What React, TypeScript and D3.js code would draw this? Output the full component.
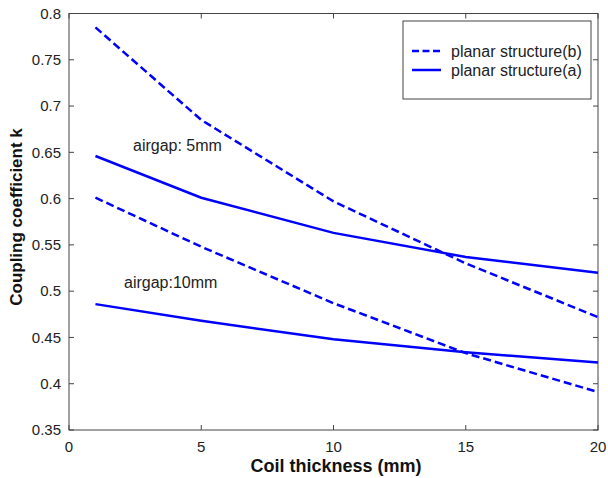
import React, { useEffect, useRef } from "react";
import * as d3 from "d3";

// coil thickness (mm)
const thickness = [1, 5, 10, 15, 20];
// coupling coefficient k, per structure / airgap
const b5mm = [0.785, 0.685, 0.597, 0.53, 0.472];
const a5mm = [0.646, 0.601, 0.563, 0.537, 0.52];
const b10mm = [0.601, 0.548, 0.487, 0.433, 0.391];
const a10mm = [0.486, 0.468, 0.448, 0.434, 0.423];

const xTicks = [0, 5, 10, 15, 20];
const yTicks = [0.35, 0.4, 0.45, 0.5, 0.55, 0.6, 0.65, 0.7, 0.75, 0.8];

const legendLabels = ["planar structure(b)", "planar structure(a)"];

function App() {
  const ref = useRef<SVGSVGElement>(null);

  useEffect(() => {
    const svg = d3.select(ref.current);
    svg.selectAll("*").remove();

    const left = 69, right = 598, top = 13.5, bottom = 430;
    const x = d3.scaleLinear().domain([0, 20]).range([left, right]);
    const y = d3.scaleLinear().domain([0.35, 0.8]).range([bottom, top]);
    const font = "Arial, 'Liberation Sans', sans-serif";
    const axisColor = "#444";

    svg.append("rect")
      .attr("x", left).attr("y", top)
      .attr("width", right - left).attr("height", bottom - top)
      .attr("fill", "white").attr("stroke", axisColor).attr("stroke-width", 1);

    // ticks pointing inward on all four sides
    const tickLen = 5;
    xTicks.forEach(t => {
      svg.append("line").attr("x1", x(t)).attr("x2", x(t)).attr("y1", bottom).attr("y2", bottom - tickLen).attr("stroke", axisColor);
      svg.append("line").attr("x1", x(t)).attr("x2", x(t)).attr("y1", top).attr("y2", top + tickLen).attr("stroke", axisColor);
      svg.append("text").attr("x", x(t)).attr("y", bottom + 22)
        .attr("text-anchor", "middle").style("font-family", font).style("font-size", "15px").attr("fill", "#222")
        .text(String(t));
    });
    yTicks.forEach(t => {
      svg.append("line").attr("x1", left).attr("x2", left + tickLen).attr("y1", y(t)).attr("y2", y(t)).attr("stroke", axisColor);
      svg.append("line").attr("x1", right).attr("x2", right - tickLen).attr("y1", y(t)).attr("y2", y(t)).attr("stroke", axisColor);
      svg.append("text").attr("x", left - 8).attr("y", y(t)).attr("dy", "0.35em")
        .attr("text-anchor", "end").style("font-family", font).style("font-size", "15px").attr("fill", "#222")
        .text(String(t));
    });

    const line = d3.line<number>().x((d, i) => x(thickness[i])).y(d => y(d));
    const series = [
      { values: b5mm, dashed: true },
      { values: a5mm, dashed: false },
      { values: b10mm, dashed: true },
      { values: a10mm, dashed: false },
    ];
    series.forEach(s => {
      svg.append("path").attr("d", line(s.values))
        .attr("fill", "none").attr("stroke", "#0000ff").attr("stroke-width", 2.5)
        .attr("stroke-dasharray", s.dashed ? "8,4" : null);
    });

    // annotations
    svg.append("text").attr("x", 133).attr("y", 151).style("font-family", font).style("font-size", "16px").attr("fill", "#222").text("airgap: 5mm");
    svg.append("text").attr("x", 124).attr("y", 288).style("font-family", font).style("font-size", "16px").attr("fill", "#222").text("airgap:10mm");

    // legend
    const lg = svg.append("g");
    lg.append("rect").attr("x", 403).attr("y", 21).attr("width", 188).attr("height", 78)
      .attr("fill", "white").attr("stroke", axisColor);
    legendLabels.forEach((l, i) => {
      const ly = 51 + i * 19;
      lg.append("line").attr("x1", 412).attr("x2", 441).attr("y1", ly).attr("y2", ly)
        .attr("stroke", "#0000ff").attr("stroke-width", 2.5)
        .attr("stroke-dasharray", i === 0 ? "7,3.5" : null);
      lg.append("text").attr("x", 451).attr("y", ly).attr("dy", "0.35em")
        .style("font-family", font).style("font-size", "16px").attr("fill", "#222").text(l);
    });

    // axis labels
    svg.append("text").attr("x", 336).attr("y", 472).attr("text-anchor", "middle")
      .style("font-family", font).style("font-size", "18px").style("font-weight", "bold").attr("fill", "#111")
      .text("Coil thickness (mm)");
    svg.append("text").attr("transform", `translate(22,217) rotate(-90)`).attr("text-anchor", "middle")
      .style("font-family", font).style("font-size", "17px").style("font-weight", "bold").attr("fill", "#111")
      .text("Coupling coefficient k");
  }, []);

  return (
    <svg ref={ref} width={608} height={478}
      style={{ position: "absolute", left: 0, top: 0, background: "white" }} />
  );
}

export default App;
